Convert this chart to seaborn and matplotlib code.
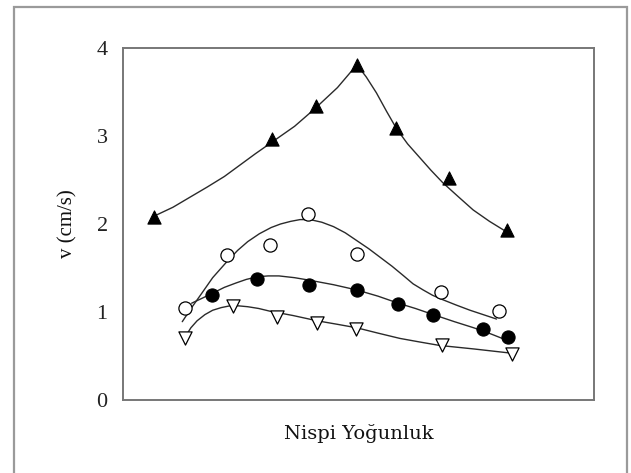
import matplotlib
matplotlib.use("Agg")
import matplotlib.pyplot as plt
import seaborn as sns
from matplotlib.patches import Rectangle

# Measured points for the four series
tri_up_x = [0.40, 1.91, 2.48, 3.00, 3.50, 4.18, 4.92]
tri_up_y = [2.08, 2.97, 3.34, 3.81, 3.09, 2.52, 1.93]

open_circ_x = [0.80, 1.33, 1.88, 2.37, 3.00, 4.08, 4.82]
open_circ_y = [1.05, 1.65, 1.76, 2.11, 1.66, 1.23, 1.01]

fill_circ_x = [1.14, 1.72, 2.38, 3.00, 3.53, 3.98, 4.62, 4.94]
fill_circ_y = [1.19, 1.38, 1.31, 1.25, 1.09, 0.97, 0.81, 0.72]

tri_dn_x = [0.80, 1.41, 1.97, 2.49, 2.99, 4.09, 4.99]
tri_dn_y = [0.70, 1.07, 0.94, 0.87, 0.81, 0.62, 0.52]

# Fitted trend curves for each series
fit_a_x = [0.40, 0.64, 0.85, 1.08, 1.30, 1.50, 1.70, 1.91, 2.20, 2.46, 2.75, 3.00,
           3.12, 3.25, 3.38, 3.51, 3.65, 3.81, 3.95, 4.10, 4.30, 4.49, 4.70, 4.92]
fit_a_y = [2.09, 2.19, 2.30, 2.42, 2.54, 2.67, 2.80, 2.93, 3.11, 3.31, 3.55, 3.81,
           3.67, 3.49, 3.28, 3.08, 2.91, 2.75, 2.61, 2.47, 2.31, 2.16, 2.03, 1.91]

fit_b_x = [0.76, 0.88, 1.00, 1.15, 1.33, 1.47, 1.60, 1.75, 1.90, 2.02, 2.15, 2.27, 2.40,
           2.55, 2.70, 2.85, 3.00, 3.15, 3.30, 3.45, 3.60, 3.72, 3.85, 3.97, 4.10,
           4.27, 4.45, 4.62, 4.79]
fit_b_y = [0.89, 1.05, 1.20, 1.39, 1.57, 1.70, 1.80, 1.89, 1.96, 2.00, 2.03, 2.05, 2.05,
           2.02, 1.97, 1.90, 1.81, 1.72, 1.62, 1.52, 1.41, 1.32, 1.25, 1.19, 1.14,
           1.08, 1.02, 0.97, 0.92]

fit_c_x = [0.88, 1.00, 1.14, 1.30, 1.45, 1.58, 1.72, 1.86, 2.00, 2.20, 2.40, 2.70,
           3.00, 3.27, 3.53, 3.75, 3.98, 4.25, 4.50, 4.72, 4.92]
fit_c_y = [1.10, 1.15, 1.21, 1.28, 1.33, 1.37, 1.40, 1.41, 1.41, 1.39, 1.36, 1.31,
           1.25, 1.18, 1.10, 1.04, 0.97, 0.89, 0.82, 0.75, 0.68]

fit_d_x = [0.80, 0.87, 0.95, 1.05, 1.15, 1.26, 1.37, 1.48, 1.60, 1.74, 1.88, 2.18,
           2.49, 2.75, 3.00, 3.27, 3.55, 3.80, 4.06, 4.28, 4.50, 4.75, 5.00]
fit_d_y = [0.72, 0.82, 0.90, 0.97, 1.02, 1.05, 1.07, 1.07, 1.06, 1.04, 1.01, 0.96,
           0.90, 0.86, 0.82, 0.76, 0.70, 0.66, 0.62, 0.60, 0.58, 0.555, 0.53]

x_ticks = [1, 2, 3, 4, 5]
y_ticks = [0, 1, 2, 3, 4]
y_tick_labels = ["0", "1", "2", "3", "4"]

x_label = "Nispi Yoğunluk"
y_label = "v (cm/s)"

sns.set_style("white")
plt.rcParams["font.family"] = ["Liberation Serif", "DejaVu Serif"]

fig = plt.figure(figsize=(6.31, 4.73), dpi=100)
ax = fig.add_axes([123 / 631, 1 - 400 / 473, 471 / 631, 352 / 473])

line_kw = dict(color="#2a2a2a", linewidth=1.0, sort=False, estimator=None, ax=ax)
for fx, fy in [(fit_a_x, fit_a_y), (fit_b_x, fit_b_y), (fit_c_x, fit_c_y), (fit_d_x, fit_d_y)]:
    sns.lineplot(x=fx, y=fy, **line_kw)

sns.scatterplot(x=tri_up_x, y=tri_up_y, marker="^", s=90, color="black",
                edgecolor="black", linewidth=0.8, ax=ax, zorder=3)
sns.scatterplot(x=open_circ_x, y=open_circ_y, marker="o", s=90, facecolor="white",
                edgecolor="black", linewidth=0.9, ax=ax, zorder=3)
sns.scatterplot(x=fill_circ_x, y=fill_circ_y, marker="o", s=90, color="black",
                edgecolor="black", linewidth=0.8, ax=ax, zorder=3)
sns.scatterplot(x=tri_dn_x, y=tri_dn_y, marker="v", s=90, facecolor="white",
                edgecolor="black", linewidth=0.9, ax=ax, zorder=3)

ax.set_xlim(0, 6.04)
ax.set_ylim(0, 4)
ax.set_xticks(x_ticks)
ax.set_xticklabels([])
ax.set_yticks(y_ticks)
ax.set_yticklabels(y_tick_labels, fontsize=16, color="#222222")
ax.tick_params(axis="x", direction="in", length=8, width=1.2, color="#333333")
ax.tick_params(axis="y", direction="in", length=6, width=1.0, color="#999999", pad=11)

for sp in ax.spines.values():
    sp.set_color("#777777")
    sp.set_linewidth(1.4)

ax.set_xlabel(x_label, fontsize=14, family=["DejaVu Serif"], labelpad=14, color="#111111")
ax.set_ylabel(y_label, fontsize=15, labelpad=14, color="#111111")

# grey frame around the whole figure
fig.patches.append(Rectangle((14 / 631, -0.01), 613 / 631, 1 - 7 / 473 + 0.01,
                             transform=fig.transFigure, fill=False,
                             edgecolor="#9a9a9a", linewidth=1.6))

fig.savefig("out.png", dpi=100, facecolor="white")
